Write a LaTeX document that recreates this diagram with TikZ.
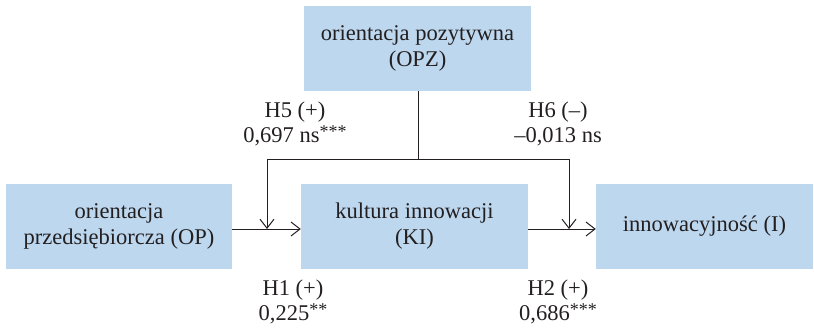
\documentclass[tikz,border=0pt]{standalone}
\usepackage{fontspec}
\setmainfont{Liberation Serif}
\usetikzlibrary{arrows.meta}
\definecolor{boxblue}{RGB}{189,215,238}
\definecolor{ink}{RGB}{35,31,32}
\newcommand{\stars}[1]{\raisebox{0.22em}{\fontsize{18}{18}\selectfont #1}}
\begin{document}
\begin{tikzpicture}[x=1pt,y=-1pt,
  box/.style={fill=boxblue, draw=none, align=center, text=ink, inner sep=0pt,
    font=\fontsize{22.5}{26}\selectfont},
  lbl/.style={align=center, text=ink, inner sep=0pt, font=\fontsize{22.5}{24.5}\selectfont},
  conn/.style={draw=ink, line width=1pt, -{Straight Barb[length=9pt,width=14pt,line width=1pt]}},
  plain/.style={draw=ink, line width=1pt}]
\useasboundingbox (0,0) rectangle (814,327);
\node[box, minimum width=227pt, minimum height=85pt] (opz) at (417.5,48.5) {orientacja pozytywna\\(OPZ)};
\node[box, minimum width=226pt, minimum height=85pt] (op) at (119,226.5) {orientacja\\przedsiębiorcza (OP)};
\node[box, minimum width=227pt, minimum height=85pt] (ki) at (414.5,226.5) {kultura innowacji\\(KI)};
\node[box, minimum width=217pt, minimum height=85pt] (in) at (704.5,226.5) {innowacyjność (I)};
\coordinate (j) at (418,159);
\coordinate (jl) at (267,159);
\coordinate (jr) at (569,159);
\coordinate (al) at (267,229);
\coordinate (ar) at (569,229);
\draw[plain] (opz.south -| j) -- (j);
\draw[plain] (jl) -- (jr);
\draw[conn] (jl) -- (al);
\draw[conn] (jr) -- (ar);
\draw[conn] (op.east |- al) -- (ki.west |- al);
\draw[conn] (ki.east |- ar) -- (in.west |- ar);
\node[lbl] (h5) at (295,124) {H5 (+)\\0,697 ns\stars{***}};
\node[lbl] (h6) at (558,124) {H6 (–)\\–0,013 ns};
\node[lbl] (h1) at (293,302) {H1 (+)\\0,225\stars{**}};
\node[lbl] (h2) at (558,302) {H2 (+)\\0,686\stars{***}};
\end{tikzpicture}
\end{document}
